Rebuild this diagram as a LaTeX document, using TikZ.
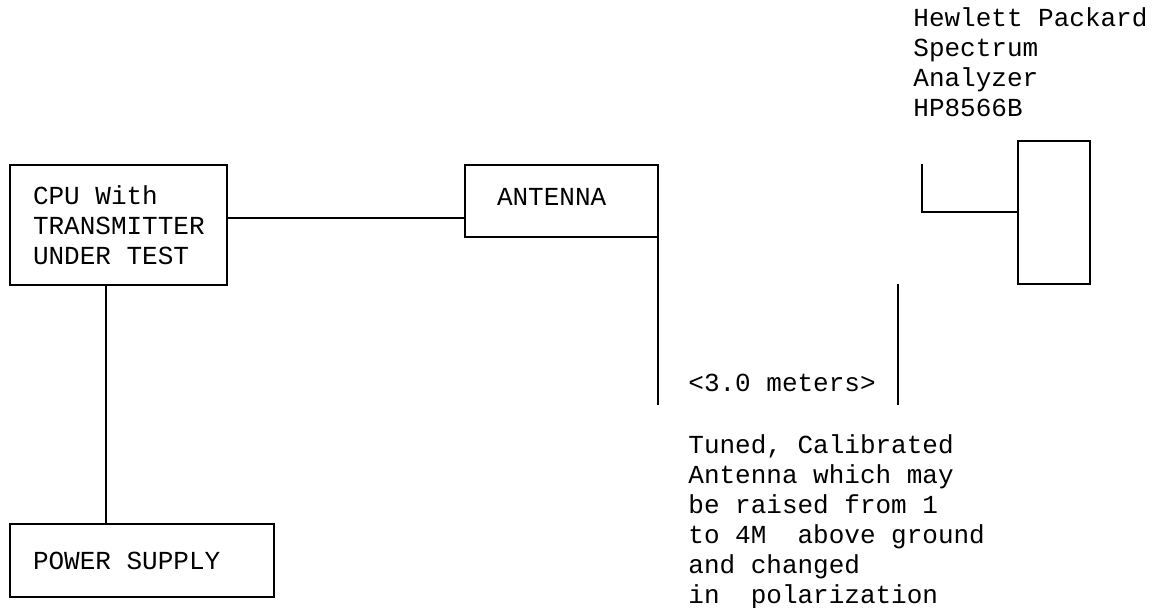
\documentclass[tikz,border=0pt]{standalone}
\usepackage{fontspec}
\setmainfont{Liberation Mono}[WordSpace={1,0,0}]
\usetikzlibrary{positioning}

\begin{document}
\frenchspacing
\begin{tikzpicture}[
  x=0.5pt, y=-0.5pt,
  font=\fontsize{13}{15}\selectfont,
  box/.style={rectangle, draw, line width=1pt, anchor=north west, align=flush left,
    inner xsep=11.5pt, inner ysep=0pt, outer sep=0pt},
  note/.style={anchor=north west, align=left, inner sep=0pt},
  wire/.style={line width=1pt}
]
\useasboundingbox (0,0) rectangle (1163,608);

\node[box, minimum width=108.5pt, minimum height=60pt, text width=85.5pt] (cpu) at (10,165)
  {CPU With\\TRANSMITTER\\UNDER TEST};
\node[box, minimum width=96.5pt, minimum height=36pt, inner xsep=16pt, text width=64.5pt,
  text depth=4.5pt] (antenna) at (465,165) {ANTENNA};
\node[box, minimum width=132pt, minimum height=36.5pt, text width=109pt] (power) at (10,524)
  {POWER SUPPLY};
\node[box, minimum width=36pt, minimum height=71.5pt, inner xsep=0pt] (analyzer) at (1018,141) {};

\node[note] (hp) at (913,7) {Hewlett Packard\\Spectrum\\Analyzer\\HP8566B};
\node[anchor=base west, inner sep=0pt] (dist) at (688,392) {<3.0 meters>};
\node[note] (tuned) at (688,434)
  {Tuned, Calibrated\\Antenna which may\\be raised from 1\\to 4M\ \ above ground\\and changed\\in\ \ polarization};

\coordinate (mast) at (658,405);
\coordinate (feed) at (922,164);
\coordinate (dtop) at (898,284);
\coordinate (dbot) at (898,405);

\draw[wire] (cpu.east |- 0,218) -- (antenna.west |- 0,218);
\draw[wire] (cpu.south -| 106,0) -- (power.north -| 106,0);
\draw[wire] (antenna.south east) -- (antenna.south east |- mast);
\draw[wire] (analyzer.west) -| (feed);
\draw[wire] (dtop) -- (dbot);
\end{tikzpicture}
\end{document}
